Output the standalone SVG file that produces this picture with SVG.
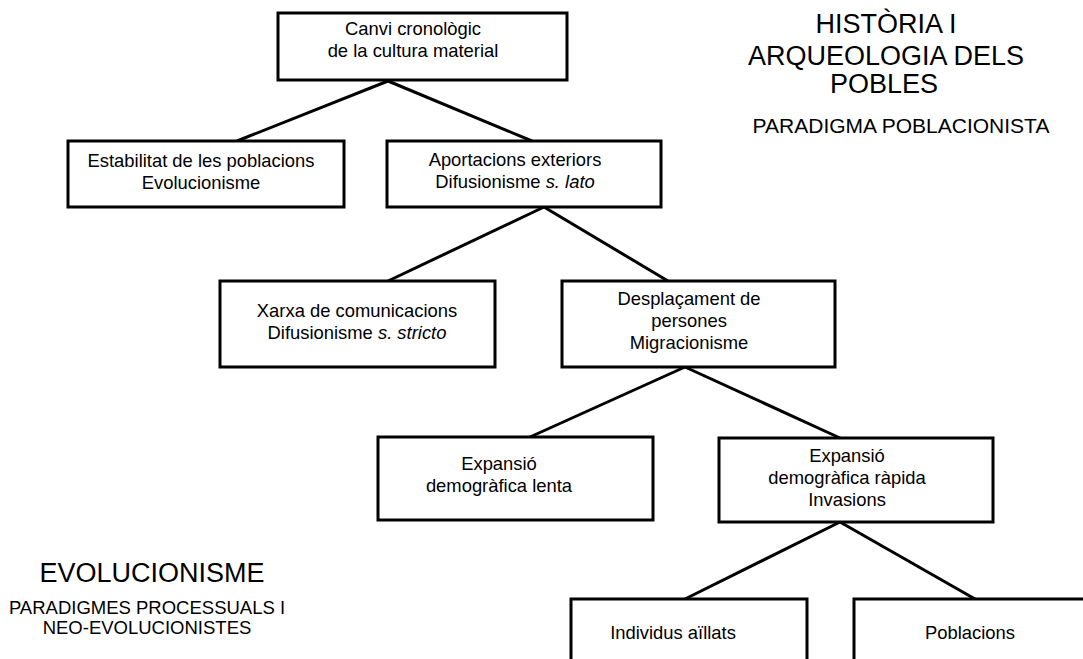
<svg xmlns="http://www.w3.org/2000/svg" width="1083" height="659" viewBox="0 0 1083 659">
<style>
.box{fill:#fff;stroke:#000;stroke-width:3}
.t{font-family:"Liberation Sans",Arial,sans-serif;font-size:18.4px;fill:#000;text-anchor:middle}
.big{font-family:"Liberation Sans",Arial,sans-serif;font-size:27px;fill:#000;text-anchor:middle}
.sub{font-family:"Liberation Sans",Arial,sans-serif;fill:#000;text-anchor:middle}
.con line{stroke:#000;stroke-width:3;stroke-linecap:butt}
</style>
<rect width="1083" height="659" fill="#fff"/>
<g id="connectors" class="con">
<line x1="388" y1="81" x2="237" y2="141"/>
<line x1="388" y1="81" x2="532" y2="141"/>
<line x1="544" y1="207" x2="388" y2="281"/>
<line x1="544" y1="207" x2="668" y2="281"/>
<line x1="685" y1="367" x2="530" y2="437"/>
<line x1="685" y1="367" x2="840" y2="438"/>
<line x1="840" y1="522" x2="685" y2="599"/>
<line x1="840" y1="522" x2="975" y2="599"/>
</g>
<g id="n1"><rect class="box" x="278" y="13" width="289" height="67"/>
<text class="t" x="413" y="35">Canvi cronològic</text><text class="t" x="413" y="57">de la cultura material</text></g>
<g id="n2"><rect class="box" x="68" y="141" width="276" height="66"/>
<text class="t" x="201" y="167">Estabilitat de les poblacions</text><text class="t" x="201" y="189">Evolucionisme</text></g>
<g id="n3"><rect class="box" x="387" y="141" width="274" height="66"/>
<text class="t" x="515" y="166">Aportacions exteriors</text><text class="t" x="515" y="188">Difusionisme <tspan font-style="italic">s. lato</tspan></text></g>
<g id="n4"><rect class="box" x="220" y="281" width="275" height="86"/>
<text class="t" x="357" y="317">Xarxa de comunicacions</text><text class="t" x="357" y="339">Difusionisme <tspan font-style="italic">s. stricto</tspan></text></g>
<g id="n5"><rect class="box" x="562" y="281" width="273" height="86"/>
<text class="t" x="689" y="305">Desplaçament de</text><text class="t" x="689" y="327">persones</text><text class="t" x="689" y="349">Migracionisme</text></g>
<g id="n6"><rect class="box" x="378" y="437" width="275" height="83"/>
<text class="t" x="499" y="470">Expansió</text><text class="t" x="499" y="492">demogràfica lenta</text></g>
<g id="n7"><rect class="box" x="719" y="438" width="274" height="84"/>
<text class="t" x="847" y="462">Expansió</text><text class="t" x="847" y="484">demogràfica ràpida</text><text class="t" x="847" y="506">Invasions</text></g>
<g id="n8"><rect class="box" x="571" y="599" width="236" height="80"/>
<text class="t" x="673" y="639">Individus aïllats</text></g>
<g id="n9"><rect class="box" x="854" y="599" width="260" height="80"/>
<text class="t" x="970" y="639">Poblacions</text></g>
<g id="title-right">
<text class="big" x="886" y="33">HISTÒRIA I</text>
<text class="big" x="886" y="65">ARQUEOLOGIA DELS</text>
<text class="big" x="884" y="93">POBLES</text>
<text class="sub" x="901" y="133" font-size="21">PARADIGMA POBLACIONISTA</text>
</g>
<g id="title-left">
<text class="big" x="152" y="582" font-size="27.5">EVOLUCIONISME</text>
<text class="sub" x="147" y="614" font-size="18.5">PARADIGMES PROCESSUALS I</text>
<text class="sub" x="147" y="634" font-size="18.5">NEO-EVOLUCIONISTES</text>
</g>
</svg>
